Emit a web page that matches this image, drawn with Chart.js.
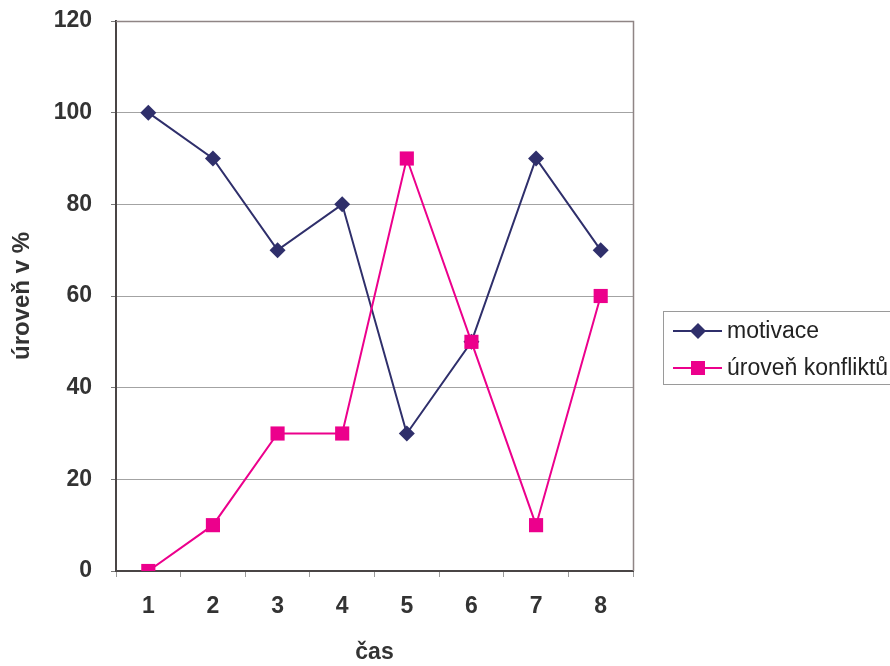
<!DOCTYPE html>
<html>
<head>
<meta charset="utf-8">
<script src="https://cdn.jsdelivr.net/npm/chart.js@4/dist/chart.umd.min.js"></script>
<style>
  html, body { margin: 0; padding: 0; background: #fff; }
  #wrap { width: 890px; height: 666px; position: relative; }
</style>
</head>
<body>
<div id="wrap"><canvas id="c" width="890" height="666"></canvas></div>
<script>
// Time points and measured levels (%)
const categories = ['1', '2', '3', '4', '5', '6', '7', '8'];
const motivace = [100, 90, 70, 80, 30, 50, 90, 70];
const konflikt = [0, 10, 30, 30, 90, 50, 10, 60];
const seriesNames = ['motivace', 'úroveň konfliktů'];
const yTicks = [0, 20, 40, 60, 80, 100, 120];

const navy = '#2f2f6b';
const pink = '#ec008c';
const fontFamily = '"Liberation Sans", Arial, sans-serif';

// Frame on the top/right of the plot area and a boxed legend on the right
const framePlugin = {
  id: 'frameAndLegend',
  afterDraw(chart) {
    const { ctx, chartArea: a } = chart;
    ctx.save();
    ctx.strokeStyle = '#8f8585';
    ctx.lineWidth = 1.5;
    ctx.beginPath();
    ctx.moveTo(a.left, a.top + 0.5);
    ctx.lineTo(a.right + 0.5, a.top + 0.5);
    ctx.lineTo(a.right + 0.5, a.bottom);
    ctx.stroke();

    // legend box
    const bx = 663.5, by = 311.5, bw = 240, bh = 73;
    ctx.strokeStyle = '#9a9a9a';
    ctx.lineWidth = 1;
    ctx.strokeRect(bx, by, bw, bh);

    const rows = [
      { name: seriesNames[0], color: navy, shape: 'diamond', y: 331 },
      { name: seriesNames[1], color: pink, shape: 'square', y: 368 }
    ];
    rows.forEach(r => {
      ctx.strokeStyle = r.color;
      ctx.lineWidth = 2;
      ctx.beginPath();
      ctx.moveTo(673, r.y);
      ctx.lineTo(722, r.y);
      ctx.stroke();
      ctx.fillStyle = r.color;
      ctx.beginPath();
      if (r.shape === 'diamond') {
        ctx.moveTo(698, r.y - 8);
        ctx.lineTo(706, r.y);
        ctx.lineTo(698, r.y + 8);
        ctx.lineTo(690, r.y);
        ctx.closePath();
      } else {
        ctx.rect(691, r.y - 7, 14, 14);
      }
      ctx.fill();
      ctx.fillStyle = '#222';
      ctx.font = '23px ' + fontFamily;
      ctx.textBaseline = 'middle';
      ctx.textAlign = 'left';
      ctx.fillText(r.name, 727, r.y + 1);
    });
    ctx.restore();
  }
};

new Chart(document.getElementById('c'), {
  type: 'line',
  data: {
    labels: categories,
    datasets: [
      {
        label: seriesNames[0],
        data: motivace,
        order: 2,
        borderColor: navy,
        backgroundColor: navy,
        borderWidth: 2,
        pointStyle: 'rectRot',
        pointRadius: 8,
        pointHoverRadius: 8,
        pointBorderWidth: 0,
        tension: 0
      },
      {
        label: seriesNames[1],
        data: konflikt,
        order: 1,
        borderColor: pink,
        backgroundColor: pink,
        borderWidth: 2,
        pointStyle: 'rect',
        pointRadius: 10,
        pointHoverRadius: 10,
        pointBorderWidth: 0,
        tension: 0
      }
    ]
  },
  options: {
    responsive: false,
    animation: false,
    events: [],
    layout: { padding: { left: 0, top: 21, right: 257, bottom: 0 } },
    plugins: {
      legend: { display: false },
      tooltip: { enabled: false }
    },
    scales: {
      x: {
        type: 'category',
        offset: true,
        grid: {
          offset: true,
          drawOnChartArea: false,
          drawTicks: true,
          tickLength: 6,
          color: '#9a9a9a',
          lineWidth: 1
        },
        border: { display: true, color: '#4a4545', width: 2 },
        ticks: {
          color: '#333',
          padding: 16,
          font: { family: fontFamily, size: 23, weight: 'bold' }
        },
        title: {
          display: true,
          text: 'čas',
          color: '#333',
          padding: { top: 0, bottom: 0 },
          font: { family: fontFamily, size: 23, weight: 'bold' }
        },
        afterFit(scale) {
          scale.height = 95;
          scale.paddingLeft = 0;
          scale.paddingRight = 0;
        }
      },
      y: {
        min: 0,
        max: 120,
        afterBuildTicks(scale) {
          scale.ticks = yTicks.map(v => ({ value: v }));
        },
        grid: {
          color: '#a3a3a3',
          lineWidth: 1,
          drawTicks: true,
          tickLength: 5,
          tickColor: '#777'
        },
        border: { display: true, color: '#4a4545', width: 2 },
        ticks: {
          color: '#333',
          padding: 19,
          font: { family: fontFamily, size: 23, weight: 'bold' }
        },
        title: {
          display: true,
          text: 'úroveň v %',
          color: '#333',
          padding: { top: 8, bottom: 0 },
          font: { family: fontFamily, size: 24, weight: 'bold' }
        },
        afterFit(scale) {
          scale.width = 116;
          scale.paddingTop = 0;
          scale.paddingBottom = 0;
        }
      }
    }
  },
  plugins: [framePlugin]
});
</script>
</body>
</html>
